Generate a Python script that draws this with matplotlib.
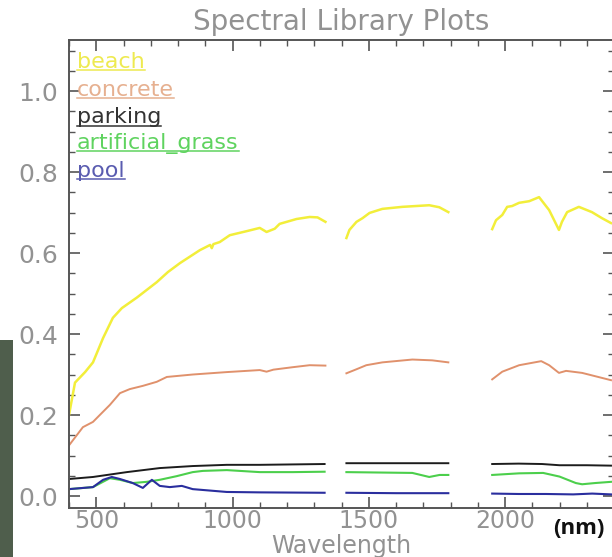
import numpy as np
import matplotlib
matplotlib.use("Agg")
import matplotlib.pyplot as plt
from matplotlib.patches import Rectangle

# ---------------- data (None = water-band gap) ----------------
beach_wl = [400, 422, 459, 488, 525, 561, 594, 649, 722, 763, 807, 880, 918, 924, 930, 953, 990, 1052,
            1100, 1125, 1155, 1173, 1235, 1283, 1312, 1341, None,
            1418, 1429, 1455, 1477, 1503, 1550, 1623, 1722, 1759, 1792, None,
            1953, 1967, 1990, 2008, 2026, 2052, 2089, 2125, 2162, 2198, 2209, 2228, 2271, 2319, 2356, 2389]
beach_val = [0.200, 0.280, 0.306, 0.330, 0.390, 0.440, 0.464, 0.490, 0.528, 0.553, 0.575, 0.607, 0.620, 0.612, 0.622, 0.627, 0.644, 0.654,
             0.662, 0.652, 0.660, 0.672, 0.684, 0.689, 0.688, 0.677, None,
             0.637, 0.657, 0.677, 0.686, 0.699, 0.709, 0.714, 0.718, 0.713, 0.701, None,
             0.659, 0.681, 0.694, 0.714, 0.716, 0.724, 0.728, 0.738, 0.706, 0.657, 0.677, 0.701, 0.714, 0.701, 0.686, 0.674]

concrete_wl = [400, 451, 488, 513, 550, 587, 623, 671, 722, 759, 854, 979, 1100, 1125, 1150, 1220, 1283, 1341, None,
               1418, 1455, 1491, 1550, 1660, 1733, 1792, None,
               1953, 1990, 2052, 2133, 2162, 2198, 2224, 2283, 2389]
concrete_val = [0.125, 0.170, 0.183, 0.200, 0.225, 0.254, 0.264, 0.272, 0.282, 0.294, 0.300, 0.306, 0.311, 0.307, 0.312, 0.318, 0.323, 0.322, None,
                0.303, 0.313, 0.323, 0.330, 0.337, 0.335, 0.330, None,
                0.288, 0.307, 0.323, 0.333, 0.323, 0.304, 0.309, 0.304, 0.286]

parking_wl = [400, 488, 612, 733, 854, 979, 1100, 1338, None,
              1418, 1600, 1792, None,
              1953, 2050, 2136, 2200, 2300, 2389]
parking_val = [0.042, 0.047, 0.059, 0.069, 0.074, 0.077, 0.077, 0.079, None,
               0.081, 0.081, 0.081, None,
               0.079, 0.080, 0.079, 0.076, 0.076, 0.075]

grass_wl = [400, 488, 550, 587, 634, 685, 733, 795, 854, 891, 979, 1100, 1220, 1338, None,
            1418, 1660, 1722, 1760, 1792, None,
            1953, 2052, 2140, 2200, 2260, 2283, 2330, 2389]
grass_val = [0.017, 0.022, 0.044, 0.040, 0.032, 0.035, 0.040, 0.049, 0.059, 0.062, 0.064, 0.059, 0.059, 0.060, None,
             0.059, 0.057, 0.047, 0.052, 0.052, None,
             0.052, 0.056, 0.057, 0.048, 0.032, 0.029, 0.032, 0.035]

pool_wl = [400, 488, 525, 557, 587, 634, 671, 704, 733, 770, 814, 854, 979, 1100, 1338, None,
           1418, 1600, 1792, None,
           1953, 2050, 2150, 2250, 2320, 2389]
pool_val = [0.017, 0.022, 0.040, 0.047, 0.042, 0.032, 0.020, 0.040, 0.025, 0.022, 0.025, 0.017, 0.010, 0.009, 0.008, None,
            0.008, 0.007, 0.007, None,
            0.006, 0.005, 0.005, 0.004, 0.006, 0.004]

labels = ["beach", "concrete", "parking", "artificial_grass", "pool"]
line_colors = ["#f2ee3a", "#e0916c", "#1c1c1c", "#4ccf4c", "#2a2e9e"]
label_colors = ["#eeea50", "#e6b090", "#333333", "#5fd35f", "#5a5cb0"]

x_ticks = [500, 1000, 1500, 2000]
y_ticks = [0.0, 0.2, 0.4, 0.6, 0.8, 1.0]


def arr(v):
    return np.array([np.nan if a is None else a for a in v], dtype=float)


series = [(beach_wl, beach_val), (concrete_wl, concrete_val), (parking_wl, parking_val),
          (grass_wl, grass_val), (pool_wl, pool_val)]

# ---------------- figure ----------------
W, H = 612, 557
fig = plt.figure(figsize=(W / 100, H / 100), dpi=100)
fig.patch.set_facecolor("white")

x0, x1 = 69, 614
y_top, y_bot = 40, 508
ax = fig.add_axes([x0 / W, 1 - y_bot / H, (x1 - x0) / W, (y_bot - y_top) / H])
ax.set_xlim(400, 2400)
ax.set_ylim(-0.0296, 1.126)

gray_txt = "#929292"
spine_c = "#555555"
for s in ax.spines.values():
    s.set_color(spine_c)
    s.set_linewidth(1.4)

ax.set_xticks(x_ticks)
ax.set_xticks(np.arange(400, 2401, 100), minor=True)
ax.set_yticks(y_ticks)
ax.set_yticks(np.arange(0.0, 1.126, 0.05), minor=True)
ax.set_xticklabels([str(t) for t in x_ticks])
ax.set_yticklabels([f"{t:.1f}" for t in y_ticks])
ax.tick_params(which="both", direction="in", top=True, right=True, colors=spine_c,
               labelcolor=gray_txt, labelsize=18)
ax.tick_params(which="major", length=8, width=1.2)
ax.tick_params(which="minor", length=4.5, width=1.0)
ax.tick_params(axis="y", which="major", length=8, pad=8)
ax.tick_params(axis="x", which="major", pad=1, labelsize=17)

for (wl, val), c, lw in zip(series, line_colors, [1.8, 1.4, 1.4, 1.5, 1.5]):
    ax.plot(arr(wl), arr(val), color=c, lw=lw, solid_joinstyle="round")

# legend-like labels with underline
leg_y = [1.057, 0.988, 0.920, 0.857, 0.788]
texts = []
for lab, c, yy in zip(labels, label_colors, leg_y):
    t = ax.text(429, yy, lab, color=c, fontsize=16, va="baseline", ha="left")
    texts.append((t, c, yy))
fig.canvas.draw()
r = fig.canvas.get_renderer()
inv = ax.transData.inverted()
for t, c, yy in texts:
    bb = t.get_window_extent(renderer=r)
    xa = inv.transform((bb.x0, 0))[0]
    xb = inv.transform((bb.x1, 0))[0]
    ax.plot([xa, xb], [yy - 0.006, yy - 0.006], color=c, lw=1.1)

fig.text(341 / W, 1 - 22 / H, "Spectral Library Plots", ha="center", va="center",
         fontsize=20, color=gray_txt)
fig.text(341 / W, 1 - 546 / H, "Wavelength", ha="center", va="center",
         fontsize=17, color=gray_txt)
fig.text(579 / W, 1 - 528 / H, "(nm)", ha="center", va="center",
         fontsize=16, color="#111111", fontweight="bold", family="Open Sans")

# dark strip of neighbouring image at the left edge
fig.patches.append(Rectangle((0, 0), 13 / W, 1 - 340 / H, transform=fig.transFigure,
                             facecolor="#4f5e4c", edgecolor="none", zorder=0))

fig.savefig("out.png", dpi=100, facecolor="white")
